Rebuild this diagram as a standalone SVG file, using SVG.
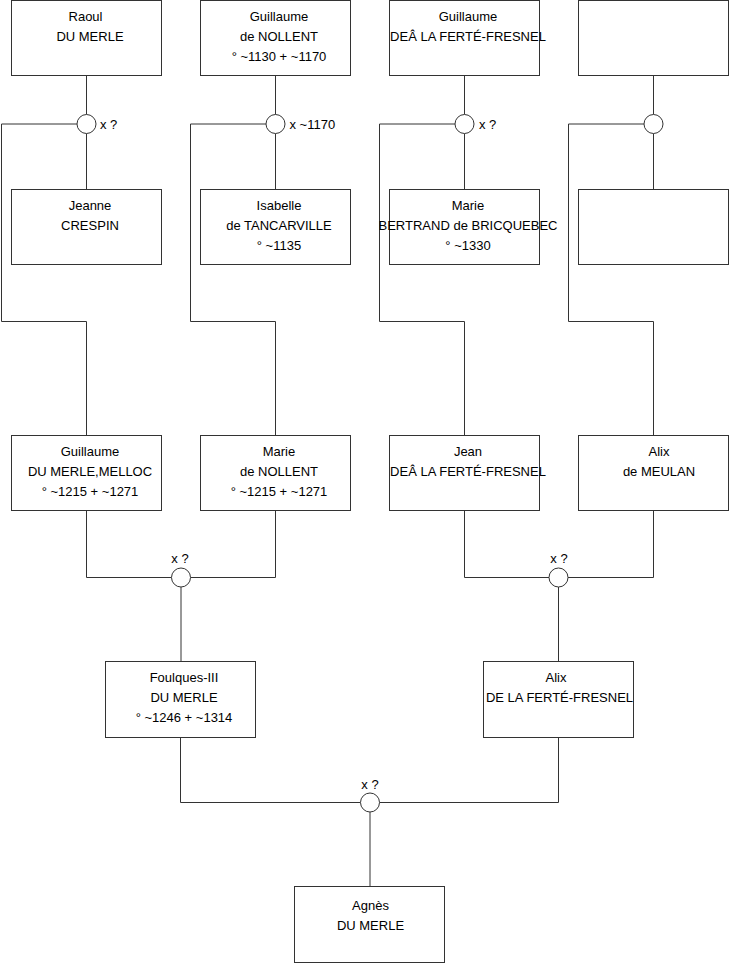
<svg xmlns="http://www.w3.org/2000/svg" width="740" height="975" viewBox="0 0 740 975">
<style>
.box{fill:#fff;stroke:#333;stroke-width:1}
.ln{fill:none;stroke:#333;stroke-width:1}
.mc{fill:#fff;stroke:#333;stroke-width:1}
text{font-family:"Liberation Sans",Arial,sans-serif;font-size:13px;fill:#000}
.c{text-anchor:middle}
.m{text-anchor:middle}
</style>
<rect width="740" height="975" fill="#fff"/>
<g id="connectors">
<path class="ln" d="M86.5 76V114.5M86.5 133.5V189M77 124H1.5V321.5H86.5V435"/>
<path class="ln" d="M275.5 76V114.5M275.5 133.5V189M266 124H190.5V321.5H275.5V435"/>
<path class="ln" d="M464.5 76V114.5M464.5 133.5V189M455 124H379.5V321.5H464.5V435"/>
<path class="ln" d="M653.5 76V114.5M653.5 133.5V189M644 124H568.5V321.5H653.5V435"/>
<path class="ln" d="M86.5 511V577.5H171.5M275.5 511V577.5H190.5M181 587V661"/>
<path class="ln" d="M464.5 511V577.5H549M653.5 511V577.5H568M558.5 587V661"/>
<path class="ln" d="M180.5 738V802.5H360.5M558.5 738V802.5H379.5M370 812V886"/>
</g>
<g id="marriages">
<circle class="mc" cx="86.5" cy="124" r="9.5"/>
<text x="100" y="128.5">x ?</text>
<circle class="mc" cx="275.5" cy="124" r="9.5"/>
<text x="289.5" y="128.5">x ~1170</text>
<circle class="mc" cx="464.5" cy="124" r="9.5"/>
<text x="479" y="128.5">x ?</text>
<circle class="mc" cx="653.5" cy="124" r="9.5"/>
<circle class="mc" cx="181" cy="577.5" r="9.5"/>
<text class="m" x="180" y="563">x ?</text>
<circle class="mc" cx="558.5" cy="577.5" r="9.5"/>
<text class="m" x="559" y="563">x ?</text>
<circle class="mc" cx="370" cy="802.5" r="9.5"/>
<text class="m" x="370" y="789">x ?</text>
</g>
<g id="n-raoul"><rect class="box" x="11.5" y="0.5" width="150" height="75"/>
<text class="c" x="85.5" y="20.5">Raoul</text><text class="c" x="90" y="40.5">DU MERLE</text></g>
<g id="n-guillaume-nollent"><rect class="box" x="200.5" y="0.5" width="150" height="75"/>
<text class="c" x="279" y="20.5">Guillaume</text><text class="c" x="279" y="40.5">de NOLLENT</text><text class="c" x="279" y="60.5">° ~1130 + ~1170</text></g>
<g id="n-guillaume-ferte"><rect class="box" x="389.5" y="0.5" width="150" height="75"/>
<text class="c" x="468" y="20.5">Guillaume</text><text class="c" x="468" y="40.5">DEÂ LA FERTÉ-FRESNEL</text></g>
<g id="n-empty1"><rect class="box" x="578.5" y="0.5" width="150" height="75"/></g>
<g id="n-jeanne"><rect class="box" x="11.5" y="189.5" width="150" height="75"/>
<text class="c" x="90" y="210">Jeanne</text><text class="c" x="90" y="230">CRESPIN</text></g>
<g id="n-isabelle"><rect class="box" x="200.5" y="189.5" width="150" height="75"/>
<text class="c" x="279" y="210">Isabelle</text><text class="c" x="279" y="230">de TANCARVILLE</text><text class="c" x="279" y="250">° ~1135</text></g>
<g id="n-marie-bertrand"><rect class="box" x="389.5" y="189.5" width="150" height="75"/>
<text class="c" x="468" y="210">Marie</text><text class="c" x="468" y="230">BERTRAND de BRICQUEBEC</text><text class="c" x="468" y="250">° ~1330</text></g>
<g id="n-empty2"><rect class="box" x="578.5" y="189.5" width="150" height="75"/></g>
<g id="n-guillaume-merle"><rect class="box" x="11.5" y="435.5" width="150" height="75"/>
<text class="c" x="90" y="456">Guillaume</text><text class="c" x="90" y="476">DU MERLE,MELLOC</text><text class="c" x="90" y="496">° ~1215 + ~1271</text></g>
<g id="n-marie-nollent"><rect class="box" x="200.5" y="435.5" width="150" height="75"/>
<text class="c" x="279" y="456">Marie</text><text class="c" x="279" y="476">de NOLLENT</text><text class="c" x="279" y="496">° ~1215 + ~1271</text></g>
<g id="n-jean"><rect class="box" x="389.5" y="435.5" width="150" height="75"/>
<text class="c" x="468" y="456">Jean</text><text class="c" x="468" y="476">DEÂ LA FERTÉ-FRESNEL</text></g>
<g id="n-alix-meulan"><rect class="box" x="578.5" y="435.5" width="150" height="75"/>
<text class="c" x="659" y="456">Alix</text><text class="c" x="659" y="476">de MEULAN</text></g>
<g id="n-foulques"><rect class="box" x="105.5" y="661.5" width="150" height="76"/>
<text class="c" x="184" y="682">Foulques-III</text><text class="c" x="184" y="702">DU MERLE</text><text class="c" x="184" y="722">° ~1246 + ~1314</text></g>
<g id="n-alix-ferte"><rect class="box" x="483.5" y="661.5" width="150" height="76"/>
<text class="c" x="556" y="682">Alix</text><text class="c" x="559.5" y="702">DE LA FERTÉ-FRESNEL</text></g>
<g id="n-agnes"><rect class="box" x="294.5" y="886.5" width="150" height="76"/>
<text class="c" x="370.5" y="910">Agnès</text><text class="c" x="370.5" y="930">DU MERLE</text></g>
</svg>
